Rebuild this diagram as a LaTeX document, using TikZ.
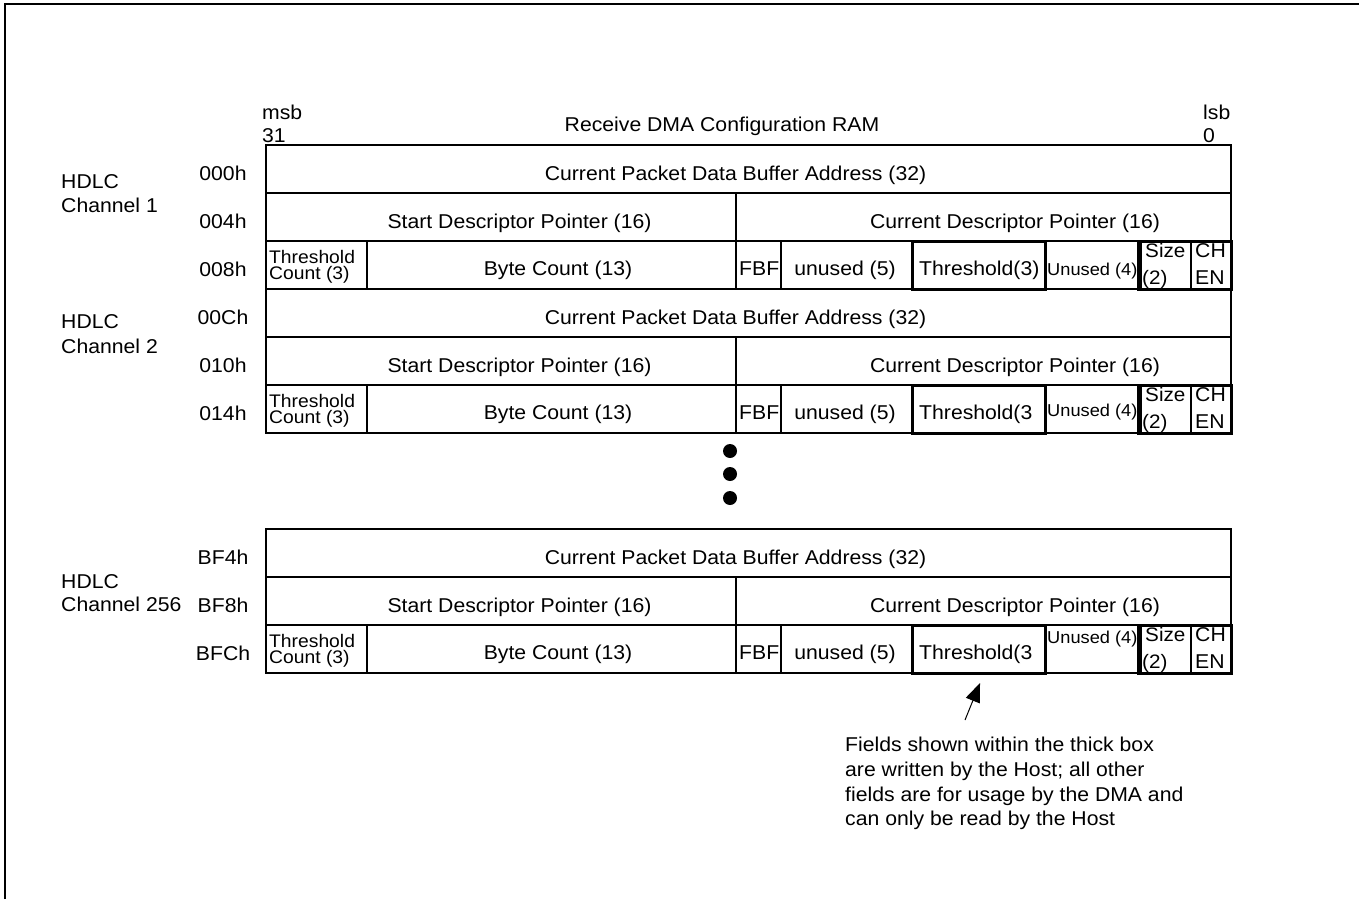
\documentclass[tikz,border=0pt]{standalone}
\usepackage{fontspec}
\setmainfont{Liberation Sans}[FakeStretch=1.06]
\usetikzlibrary{arrows.meta}
\begin{document}
\begin{tikzpicture}[x=1pt,y=-1pt,
  gridline/.style={draw=black,line width=1.1pt},
  hostbox/.style={draw=black,line width=3pt},
  txt/.style={inner sep=0pt,anchor=base,font=\fontsize{20}{23}\selectfont},
  txtw/.style={inner sep=0pt,anchor=base west,font=\fontsize{20}{23}\selectfont},
  thc/.style={inner sep=0pt,anchor=base west,font=\fontsize{18.2}{14}\selectfont},
  unu/.style={inner sep=0pt,anchor=base west,font=\fontsize{17.2}{14}\selectfont},
  szw/.style={inner sep=0pt,anchor=base west,font=\fontsize{19.5}{20}\selectfont},
  dotn/.style={circle,fill=black,inner sep=0pt,minimum size=14pt}]
\useasboundingbox (0,0) rectangle (1359,899);
\draw[line width=2.2pt] (5,899) -- (5,4) -- (1359,4);

% header
\node[txtw] (msb) at (262,119) {msb};
\node[txtw] (b31) at (262,142) {31};
\node[txtw] (lsb) at (1203,119) {lsb};
\node[txtw] (b0) at (1203,142) {0};
\node[txt] (title) at (722,131) {Receive DMA Configuration RAM};

\foreach \g/\t/\aa/\ab/\ac/\thr/\uo/\ha/\hb/\ch in {%
  1/145/000h/004h/008h/Threshold(3)/34/43/67/Channel 1,
  2/289/00Ch/010h/014h/Threshold(3/31.7/39/64/Channel 2,
  3/529/BF4h/BF8h/BFCh/Threshold(3/18/59/82/Channel 256}{
  % table lines
  \draw[gridline] (266,\t) rectangle (1231,{\t+144});
  \draw[gridline] (266,{\t+48}) -- (1231,{\t+48});
  \draw[gridline] (266,{\t+96}) -- (1231,{\t+96});
  \draw[gridline] (736,{\t+48}) -- (736,{\t+144});
  \foreach \xx in {367,781,1141,1191}
    \draw[gridline] (\xx,{\t+96}) -- (\xx,{\t+144});
  \draw[hostbox] (912,{\t+96}) rectangle (1045,{\t+144});
  \draw[hostbox] (1138,{\t+96}) rectangle (1231,{\t+144});
  % channel and addresses
  \node[txtw] (hdlc\g) at (61,{\t+\ha}) {HDLC};
  \node[txtw] (chan\g) at (61,{\t+\hb}) {\ch};
  \node[txt] (adra\g) at (223,{\t+35}) {\aa};
  \node[txt] (adrb\g) at (223,{\t+83}) {\ab};
  \node[txt] (adrc\g) at (223,{\t+131}) {\ac};
  % fields
  \node[txt] (cpdba\g) at (735.5,{\t+35}) {Current Packet Data Buffer Address (32)};
  \node[txt] (sdp\g) at (519.5,{\t+83}) {Start Descriptor Pointer (16)};
  \node[txt] (cdp\g) at (1015,{\t+83}) {Current Descriptor Pointer (16)};
  \node[thc] (thA\g) at (269,{\t+118}) {Threshold};
  \node[thc] (thB\g) at (269,{\t+134}) {Count (3)};
  \node[txt] (bc\g) at (558,{\t+130}) {Byte Count (13)};
  \node[txtw] (fbf\g) at (739,{\t+130}) {FBF};
  \node[txt] (unf\g) at (845,{\t+130}) {unused (5)};
  \node[txtw] (thr\g) at (919,{\t+130}) {\thr};
  \node[unu] (unf4\g) at (1047,{\t+96+\uo}) {Unused (4)};
  \node[szw] (szA\g) at (1145,{\t+112}) {Size};
  \node[szw] (szB\g) at (1142,{\t+139}) {(2)};
  \node[txtw] (chA\g) at (1195,{\t+112}) {CH};
  \node[txtw] (chB\g) at (1195,{\t+139}) {EN};
}

% continuation dots
\node[dotn] (dot1) at (730,451) {};
\node[dotn] (dot2) at (730,474) {};
\node[dotn] (dot3) at (730,498) {};

% note and arrow
\node[txtw,align=left,font=\fontsize{20}{24.7}\selectfont] (note) at (845,825.8)
  {Fields shown within the thick box\\are written by the Host; all other\\fields are for usage by the DMA and\\can only be read by the Host};
\coordinate (arrtail) at (965,720);
\coordinate (arrtip) at (980,683);
\draw[line width=1pt,-{Triangle[length=19pt,width=15pt]}] (arrtail) -- (arrtip);
\end{tikzpicture}
\end{document}
